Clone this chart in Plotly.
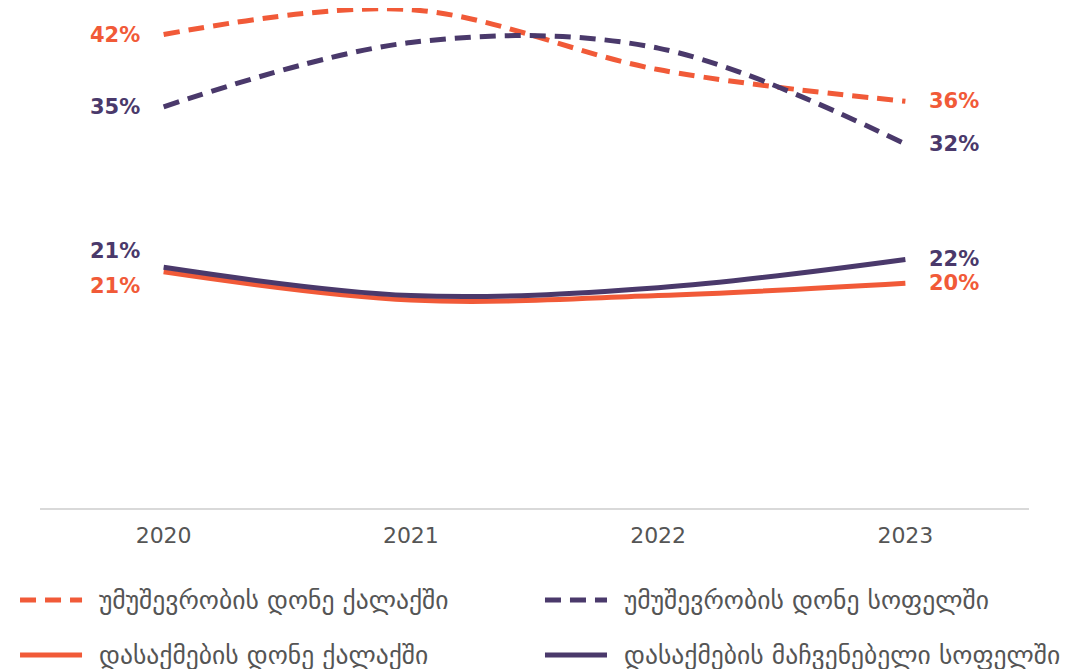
import plotly.graph_objects as go

years = ["2020", "2021", "2022", "2023"]

unemp_city = [41.9, 44.1, 38.8, 36.0]
unemp_village = [35.5, 41.2, 40.7, 32.2]
emp_city = [20.9, 18.4, 18.8, 19.9]
emp_village = [21.3, 18.8, 19.5, 22.0]

label_first = ["42%", "35%", "21%", "21%"]
label_last = ["36%", "32%", "20%", "22%"]

names = [
    "უმუშევრობის დონე ქალაქში",
    "უმუშევრობის დონე სოფელში",
    "დასაქმების დონე ქალაქში",
    "დასაქმების მაჩვენებელი სოფელში",
]

orange = "rgb(241, 90, 56)"
purple = "rgb(74, 57, 107)"
grey_text = "rgb(85, 85, 85)"
font_family = "DejaVu Sans"

dash_style = "16px,9px"

# (values, color, dash, label y-shift at first point, legend column, legend row)
series = [
    (unemp_city, orange, dash_style, 0, 0, 0),
    (unemp_village, purple, dash_style, 0, 1, 0),
    (emp_city, orange, "solid", -14, 0, 1),
    (emp_village, purple, "solid", 16, 1, 1),
]

# legend placement in paper coords
legend_cols = [(-0.0202, 0.0425, 0.0576), (0.5106, 0.5733, 0.5885)]
legend_rows = [-0.184, -0.294]

fig = go.Figure()
annotations = []
shapes = []
for i, (vals, color, dash, shift_first, col, row) in enumerate(series):
    fig.add_trace(
        go.Scatter(
            x=years,
            y=vals,
            mode="lines",
            name=names[i],
            line=dict(color=color, width=5, dash=dash, shape="spline", smoothing=1),
            cliponaxis=False,
            showlegend=False,
        )
    )
    # end labels
    annotations.append(
        dict(
            x=0, y=vals[0], xref="x", yref="y",
            text="<b>" + label_first[i] + "</b>",
            xanchor="right", yanchor="middle", xshift=-22, yshift=shift_first,
            showarrow=False, font=dict(family=font_family, size=21, color=color),
        )
    )
    annotations.append(
        dict(
            x=len(years) - 1, y=vals[-1], xref="x", yref="y",
            text="<b>" + label_last[i] + "</b>",
            xanchor="left", yanchor="middle", xshift=22,
            showarrow=False, font=dict(family=font_family, size=21, color=color),
        )
    )

    # legend entry (drawn by hand so the swatch is as long as the original)
    x0, x1, xt = legend_cols[col]
    yy = legend_rows[row]
    shapes.append(
        dict(
            type="line", xref="paper", yref="paper",
            x0=x0, x1=x1, y0=yy, y1=yy,
            line=dict(color=color, width=5, dash=dash),
        )
    )
    annotations.append(
        dict(
            x=xt, y=yy, xref="paper", yref="paper",
            text=names[i], xanchor="left", yanchor="middle",
            showarrow=False, font=dict(family=font_family, size=25.6, color=grey_text),
        )
    )

# the page body adds an 8px margin, so the figure is 8px smaller each way
fig.update_layout(
    width=1065,
    height=661,
    margin=dict(l=32, r=44, t=0, b=161),
    paper_bgcolor="white",
    plot_bgcolor="white",
    font=dict(family=font_family),
    annotations=annotations,
    shapes=shapes,
    showlegend=False,
    xaxis=dict(
        type="category",
        range=[-0.5, 3.5],
        showgrid=False,
        showline=True,
        linecolor="rgb(217, 217, 217)",
        linewidth=2,
        ticks="",
        ticklabelstandoff=7,
        tickfont=dict(family=font_family, size=22, color=grey_text),
    ),
    yaxis=dict(
        range=[0, 44.25],
        showgrid=False,
        zeroline=False,
        showline=False,
        showticklabels=False,
    ),
)

fig.write_html("out.html")
